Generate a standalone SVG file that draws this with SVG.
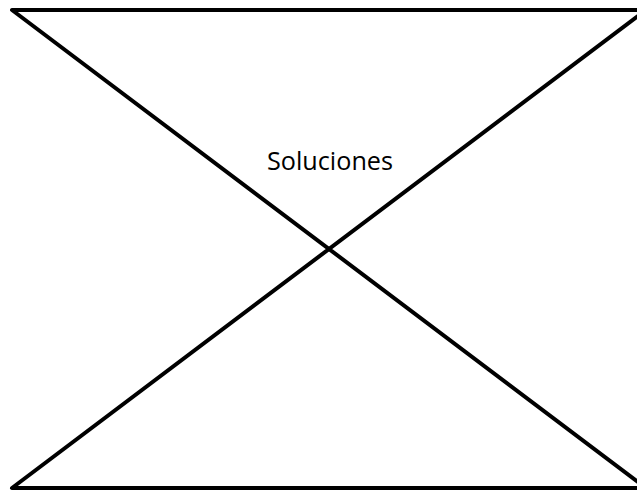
<svg xmlns="http://www.w3.org/2000/svg" width="637" height="491" viewBox="0 0 637 491">
<style>
.shape{fill:none;stroke:#000;stroke-width:4;stroke-linejoin:round}
.lbl{font-family:"Open Sans","Liberation Sans",sans-serif;font-size:25px;fill:#000}
</style>
<rect width="637" height="491" fill="#fff"/>
<g id="connectors">
<path class="shape" d="M12,10 L646,10 L12,488 L646,488 Z"/>
</g>
<g id="node-soluciones">
<text class="lbl" x="267" y="170" textLength="126" lengthAdjust="spacingAndGlyphs">Soluciones</text>
</g>
</svg>
